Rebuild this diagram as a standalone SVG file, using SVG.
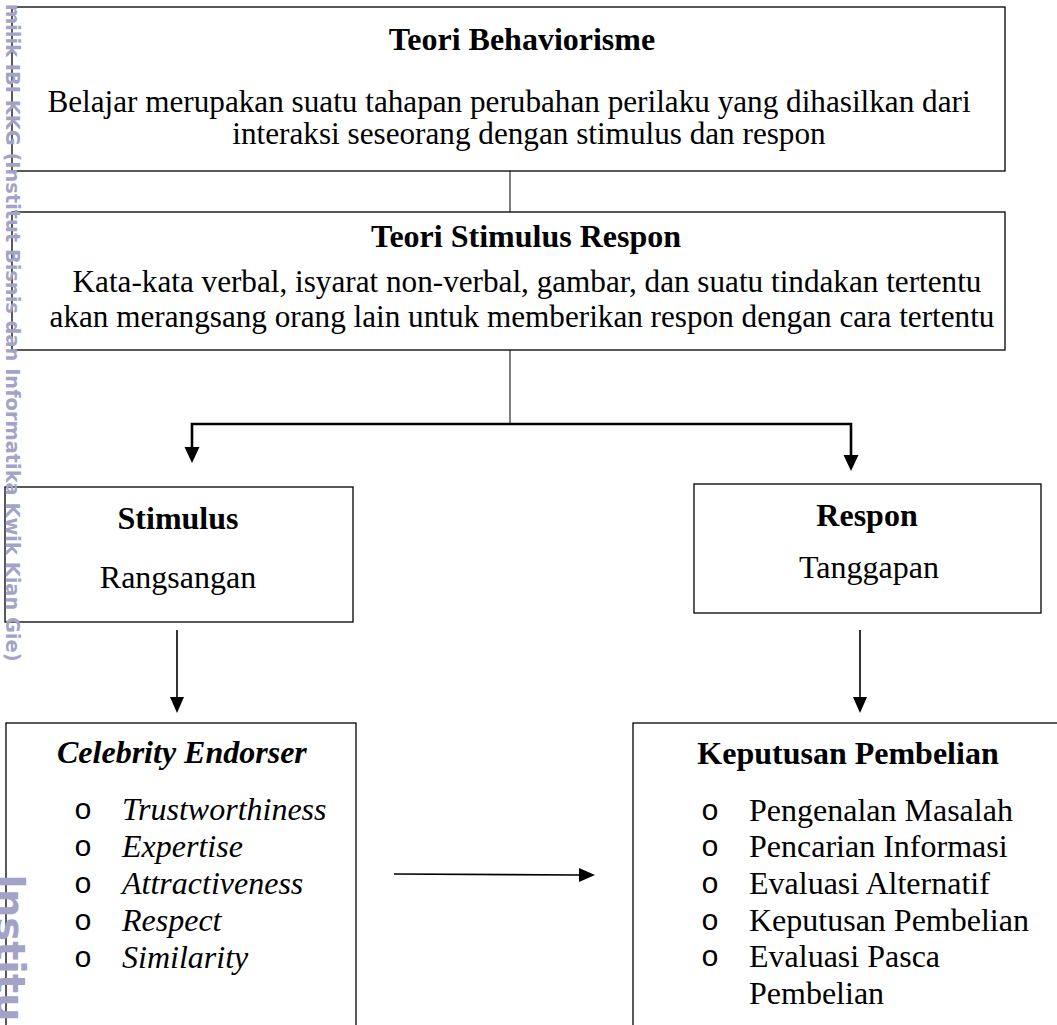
<svg xmlns="http://www.w3.org/2000/svg" width="1057" height="1025" viewBox="0 0 1057 1025">
<style>
.box{fill:#fff;stroke:#000;stroke-width:1.3}
.t{font-family:"Liberation Serif","Times New Roman",serif;font-size:32px;fill:#000}
.s{font-size:31.2px}
.b{font-weight:bold}
.i{font-style:italic}
.c{text-anchor:middle}
.bul{font-family:"Liberation Mono","Courier New",monospace;font-size:30px;fill:#000}
.wm{font-family:"DejaVu Sans",sans-serif;font-weight:bold;fill:#a3a3c8}
.thin{stroke:#000;stroke-width:1;fill:none}
.thick{stroke:#000;stroke-width:2.6;fill:none}
.mid{stroke:#000;stroke-width:1.6;fill:none}
.head{fill:#000}
</style>
<rect width="1057" height="1025" fill="#fff"/>
<g id="connectors">
<line class="thin" x1="510" y1="171" x2="510" y2="212"/>
<line class="thin" x1="510" y1="350" x2="510" y2="424"/>
<polyline class="thick" points="192,448 192,424 851,424 851,456"/>
<polygon class="head" points="184.5,447 199.5,447 192,463"/>
<polygon class="head" points="843.5,455 858.5,455 851,471"/>
<line class="mid" x1="177" y1="630" x2="177" y2="698"/>
<polygon class="head" points="170,697 184,697 177,713"/>
<line class="mid" x1="860" y1="630" x2="860" y2="698"/>
<polygon class="head" points="853,697 867,697 860,713"/>
<line class="mid" x1="394" y1="874" x2="580" y2="875"/>
<polygon class="head" points="579,868 579,882 595,875"/>
</g>
<g id="node-behaviorisme">
<rect class="box" x="12" y="7" width="993" height="164"/>
<text class="t b c" x="522" y="50">Teori Behaviorisme</text>
<text class="t s c" x="509" y="112">Belajar merupakan suatu tahapan perubahan perilaku yang dihasilkan dari</text>
<text class="t s c" x="529" y="144">interaksi seseorang dengan stimulus dan respon</text>
</g>
<g id="node-stimulus-respon">
<rect class="box" x="12" y="212" width="993" height="138"/>
<text class="t b c" x="526" y="247">Teori Stimulus Respon</text>
<text class="t s c" x="527" y="292">Kata-kata verbal, isyarat non-verbal, gambar, dan suatu tindakan tertentu</text>
<text class="t s c" x="522" y="327">akan merangsang orang lain untuk memberikan respon dengan cara tertentu</text>
</g>
<g id="node-stimulus">
<rect class="box" x="5" y="487" width="348" height="135"/>
<text class="t b c" x="178" y="529">Stimulus</text>
<text class="t c" x="178" y="588">Rangsangan</text>
</g>
<g id="node-respon">
<rect class="box" x="694" y="484" width="347" height="129"/>
<text class="t b c" x="867" y="526">Respon</text>
<text class="t c" x="869" y="578">Tanggapan</text>
</g>
<g id="node-celebrity">
<rect class="box" x="6" y="723" width="350" height="320"/>
<text class="t b i" x="57" y="763">Celebrity Endorser</text>
<g class="bul"><text x="74" y="819">o</text><text x="74" y="856">o</text><text x="74" y="893">o</text><text x="74" y="930">o</text><text x="74" y="967">o</text></g>
<text class="t i" x="122" y="820">Trustworthiness</text>
<text class="t i" x="122" y="857">Expertise</text>
<text class="t i" x="122" y="894">Attractiveness</text>
<text class="t i" x="122" y="931">Respect</text>
<text class="t i" x="122" y="968">Similarity</text>
</g>
<g id="node-keputusan">
<rect class="box" x="633" y="723" width="440" height="320"/>
<text class="t b c" x="848" y="764">Keputusan Pembelian</text>
<g class="bul"><text x="701" y="820">o</text><text x="701" y="856">o</text><text x="701" y="893">o</text><text x="701" y="930">o</text><text x="701" y="966">o</text></g>
<text class="t" x="749" y="821">Pengenalan Masalah</text>
<text class="t" x="749" y="857">Pencarian Informasi</text>
<text class="t" x="749" y="894">Evaluasi Alternatif</text>
<text class="t" x="749" y="931">Keputusan Pembelian</text>
<text class="t" x="749" y="967">Evaluasi Pasca</text>
<text class="t" x="749" y="1004">Pembelian</text>
</g>
<g id="watermark">
<text class="wm" font-size="19.4" transform="translate(6,4) rotate(90)">milik IBI KKG (Institut Bisnis dan Informatika Kwik Kian Gie)</text>
<text class="wm" font-size="40" transform="translate(-4,874) rotate(90)">Institu</text>
</g>
</svg>
